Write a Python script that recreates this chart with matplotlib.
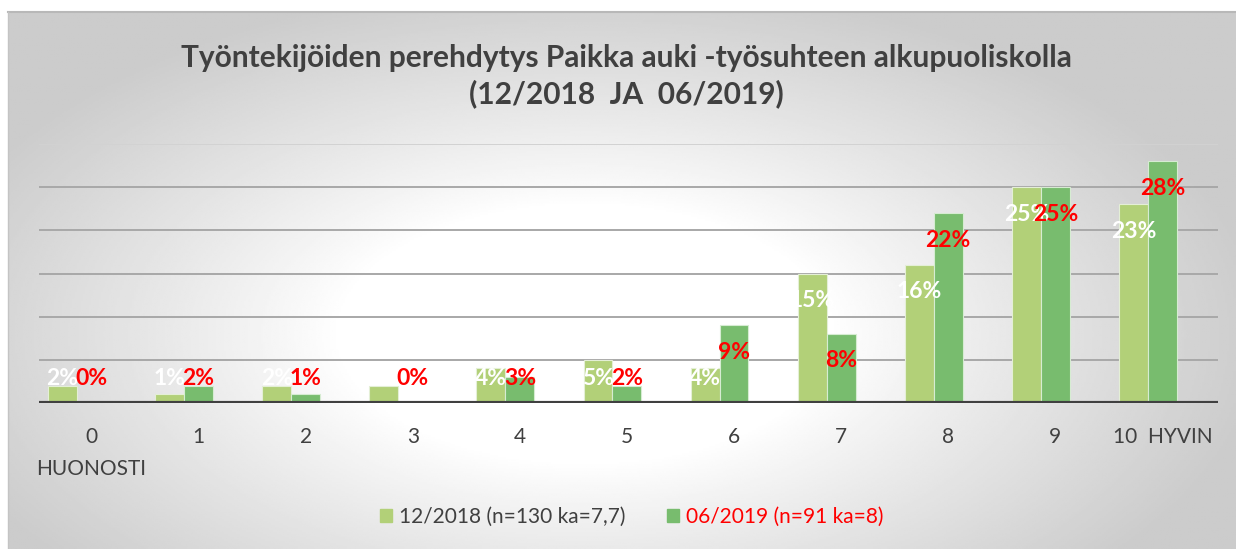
import numpy as np
import matplotlib
matplotlib.use('Agg')
import matplotlib.pyplot as plt
from matplotlib.patches import Patch

plt.rcParams['font.family'] = ['Lato', 'DejaVu Sans']

# data
cats = ['0\nHUONOSTI', '1', '2', '3', '4', '5', '6', '7', '8', '9', '10  HYVIN']
s2018 = [2, 1, 2, 2, 4, 5, 4, 15, 16, 25, 23]
s2019 = [0, 2, 1, 0, 3, 2, 9, 8, 22, 25, 28]
name2018 = '12/2018 (n=130 ka=7,7)'
name2019 = '06/2019 (n=91 ka=8)'
title = 'Työntekijöiden perehdytys Paikka auki -työsuhteen alkupuoliskolla\n(12/2018  JA  06/2019)'

c_light = '#b2d078'
c_dark = '#78bc6e'
txt = '#404040'

W, H = 1236, 549
fig = plt.figure(figsize=(W / 100, H / 100), dpi=100)

# radial gray background, white in the middle
bg = fig.add_axes([8 / W, 0, 1 - 8 / W, 1 - 12 / H], zorder=-10)
yy, xx = np.mgrid[0:1:300j, 0:1:600j]
r = np.sqrt((xx - 0.47) ** 2 + ((yy - 0.6) / 1.2) ** 2)
shade = 1 - 0.2 * np.clip((r - 0.2) / 0.35, 0, 1) ** 0.9
bg.imshow(shade, cmap='gray', vmin=0, vmax=1, aspect='auto', extent=(0, 1, 1, 0))
bg.set_axis_off()
fig.add_artist(plt.Line2D([8 / W, 1], [1 - 12 / H] * 2, color='#b8b8b8', lw=1.5))
fig.add_artist(plt.Line2D([8 / W] * 2, [0, 1 - 12 / H], color='#c4c4c4', lw=1))

ax = fig.add_axes([39 / W, 1 - 403 / H, 1179 / W, 259 / H])
ax.patch.set_alpha(0)
x = np.arange(len(cats))
bw = 0.27
ax.bar(x - bw / 2, s2018, bw, color=c_light, edgecolor='#e4efd6', lw=0.8, zorder=3)
ax.bar(x + bw / 2, s2019, bw, color=c_dark, edgecolor='#d6ecd2', lw=0.8, zorder=3)

ax.set_xlim(-0.355, 10.654)
ax.set_ylim(0, 30)
for g in [5, 10, 15, 20, 25]:
    ax.axhline(g, color='#a8a8a8', lw=1.4, zorder=1)
ax.axhline(30, color='#d2d2d2', lw=1.4, zorder=1)
ax.axhline(0, color='#404040', lw=3, zorder=4)
for s in ax.spines.values():
    s.set_visible(False)
ax.set_yticks([])
ax.set_xticks(x + 0.135)
ax.set_xticklabels(cats, fontsize=15, color=txt, linespacing=1.75, va='top')
ax.tick_params(axis='x', length=0, pad=17)

for xi, v in zip(x, s2018):
    ax.annotate(f'{v}%', (xi - bw / 2, max(v, 6.0)), xytext=(0, -19.4),
                textcoords='offset points', ha='center', va='center',
                color='white', fontsize=16.5, fontweight='bold', zorder=5)
for xi, v in zip(x, s2019):
    ax.annotate(f'{v}%', (xi + bw / 2, max(v, 6.0)), xytext=(0, -19.4),
                textcoords='offset points', ha='center', va='center',
                color='red', fontsize=16.5, fontweight='bold', zorder=5)

fig.text(626 / W, 1 - 76 / H, title, ha='center', va='center', fontsize=21.5,
         fontweight='bold', color=txt, linespacing=1.3)

handles = [Patch(color=c_light), Patch(color=c_dark)]
leg = fig.legend(handles, [name2018, name2019], loc='center', ncol=2,
                 bbox_to_anchor=(632 / W, 1 - 517 / H), frameon=False,
                 fontsize=15, handlelength=0.55, handleheight=0.55,
                 handletextpad=0.35, columnspacing=2.0)
leg.get_texts()[0].set_color(txt)
leg.get_texts()[1].set_color('red')

fig.savefig('out.png', dpi=100)
